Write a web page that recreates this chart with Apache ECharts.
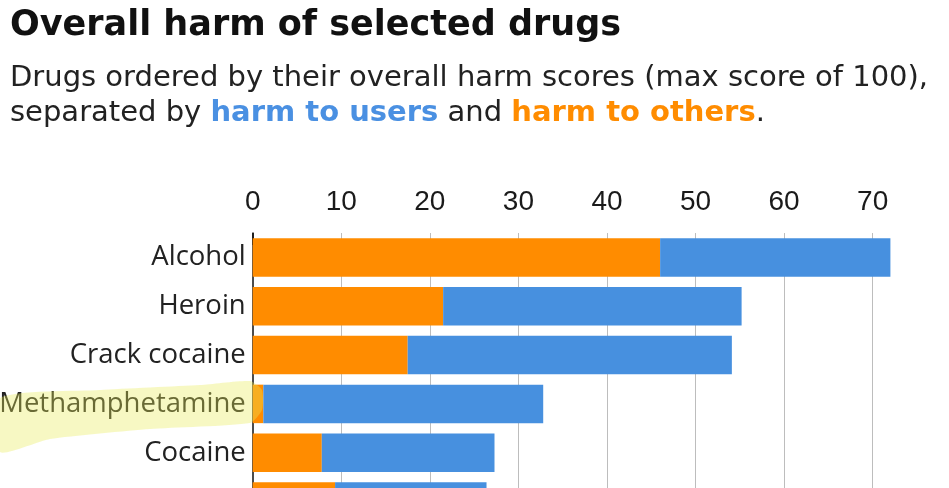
<!DOCTYPE html>
<html>
<head>
<meta charset="utf-8">
<script src="https://cdn.jsdelivr.net/npm/echarts@6/dist/echarts.min.js"></script>
<style>
html,body{margin:0;padding:0;background:#fff;}
#chart{width:949px;height:488px;}
</style>
</head>
<body>
<div id="chart"></div>
<script>
var categories = ['Alcohol', 'Heroin', 'Crack cocaine', 'Methamphetamine', 'Cocaine', 'Tobacco'];
var harmToOthers = [46, 21.5, 17.5, 1.2, 7.8, 9.3];
var harmToUsers = [26, 33.7, 36.6, 31.6, 19.5, 17.1];
var tickValues = [0, 10, 20, 30, 40, 50, 60, 70];

var ORANGE = '#FF8C00';
var BLUE = '#4790DF';
var GRID = '#BDBDBD';

var chart = echarts.init(document.getElementById('chart'), null, {renderer: 'canvas'});
var unit = 8.857;
var option = {
  backgroundColor: '#fff',
  animation: false,
  title: [
    {
      text: 'Overall harm of selected drugs',
      left: 5, top: 3,
      textStyle: {fontFamily: 'DejaVu Sans', fontWeight: 'bold', fontSize: 35, color: '#111'}
    },
    {
      text: '{n|Drugs ordered by their overall harm scores (max score of 100),}\n{n|separated by }{b|harm to users}{n| and }{o|harm to others}{n|.}',
      left: 5, top: 56,
      textStyle: {
        fontFamily: 'DejaVu Sans', fontWeight: 'normal', fontSize: 29, color: '#222', lineHeight: 35,
        rich: {
          n: {fontFamily: 'DejaVu Sans', fontWeight: 'normal', fontSize: 29, color: '#222', lineHeight: 35},
          b: {fontFamily: 'DejaVu Sans', fontSize: 29, fontWeight: 'bold', color: '#4A90E2', lineHeight: 35},
          o: {fontFamily: 'DejaVu Sans', fontSize: 29, fontWeight: 'bold', color: ORANGE, lineHeight: 35}
        }
      }
    }
  ],
  grid: {left: 252.7, top: 233.1, width: 80 * unit, height: 6 * 48.8, containLabel: false, outerBoundsMode: 'none'},
  xAxis: [
    {
      type: 'value', position: 'top', min: 0, max: 80, interval: 10,
      axisLine: {show: false},
      axisTick: {show: true, inside: true, length: 11, customValues: tickValues.slice(1), lineStyle: {color: GRID, width: 1}},
      axisLabel: {
        show: true, margin: 17, customValues: tickValues,
        fontFamily: 'Liberation Sans', fontSize: 28, color: '#1a1a1a'
      },
      splitLine: {show: true, lineStyle: {color: GRID, width: 1}}
    },
    {
      type: 'value', position: 'top', min: 0, max: 80, interval: 10,
      axisLine: {show: false},
      axisTick: {show: true, inside: true, length: 12, customValues: [0], lineStyle: {color: '#111', width: 1.5}},
      axisLabel: {show: false},
      splitLine: {show: false}
    }
  ],
  yAxis: {
    type: 'category', inverse: true, data: categories,
    axisLine: {show: true, lineStyle: {color: '#111', width: 1.5}},
    axisTick: {show: false},
    axisLabel: {fontFamily: 'Open Sans', fontSize: 27.5, color: '#222', margin: 7}
  },
  series: [
    {
      name: 'harm to others', type: 'bar', stack: 'total', xAxisIndex: 0,
      barWidth: 38.5, data: harmToOthers,
      itemStyle: {color: ORANGE}, z: 2
    },
    {
      name: 'harm to users', type: 'bar', stack: 'total', xAxisIndex: 0,
      barWidth: 38.5, data: harmToUsers,
      itemStyle: {color: BLUE}, z: 2
    }
  ],
  graphic: [
    {
      type: 'polygon', z: 100, silent: true,
      shape: {
        points: [[0, 398], [100, 390], [200, 385], [250, 381], [262, 390], [262, 410], [250, 423], [150, 429], [50, 439], [0, 452]],
        smooth: 0.2
      },
      style: {fill: 'rgba(232,236,90,0.36)'}
    }
  ]
};
chart.setOption(option);
</script>
</body>
</html>
